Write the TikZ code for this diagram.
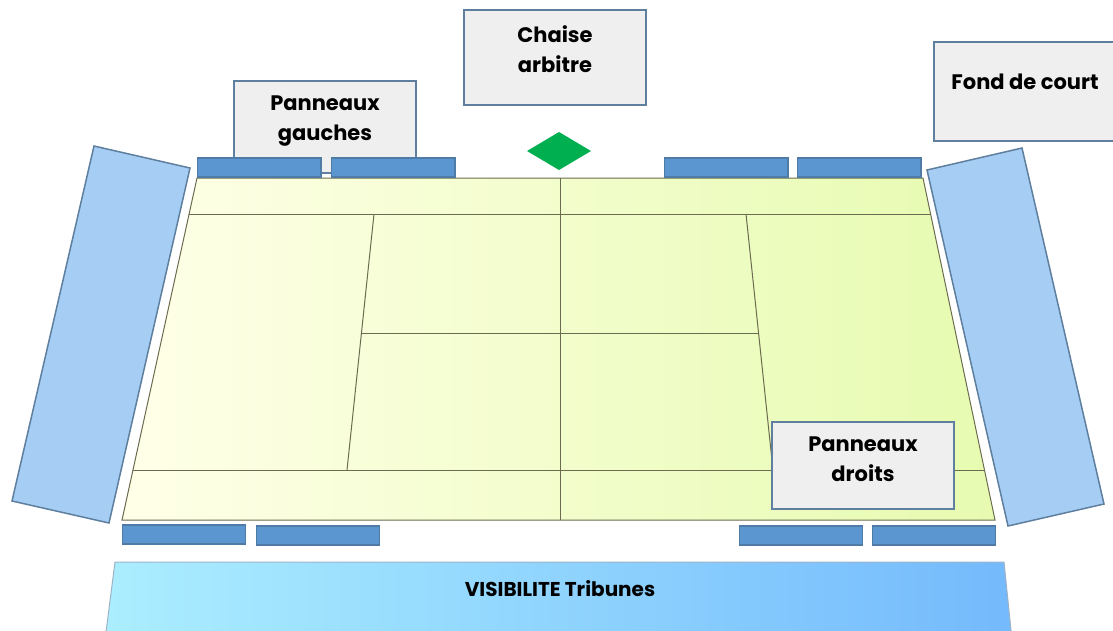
\documentclass[tikz,border=0pt]{standalone}
\usepackage{fontspec}
\setmainfont{Poppins}
\definecolor{bordbleu}{HTML}{5F7F9E}
\definecolor{panneaubleu}{HTML}{5B96D0}
\definecolor{panneaubord}{HTML}{4F7CA6}
\definecolor{latbleu}{HTML}{A6CDF3}
\definecolor{boitegris}{HTML}{EFEFEF}
\definecolor{courtbord}{HTML}{6B6B50}
\definecolor{courtgauche}{HTML}{FFFFE8}
\definecolor{courtmilieu}{HTML}{FDFECF}
\definecolor{courtdroit}{HTML}{E6FBB0}
\definecolor{tribgauche}{HTML}{ABEEFF}
\definecolor{tribdroit}{HTML}{74BAFC}
\definecolor{chaisevert}{HTML}{00B050}
\tikzset{
 panneau/.style={draw=panneaubord,fill=panneaubleu,line width=1.2pt},
 lateral/.style={draw=bordbleu,fill=latbleu,line width=1.5pt},
 boite/.style={draw=bordbleu,fill=boitegris,line width=1.5pt},
 libelle/.style={font=\fontsize{21}{30}\selectfont\bfseries,align=center,text=black,inner sep=0pt},
 ligne/.style={draw=courtbord,line width=1pt}
}
\begin{document}
\begin{tikzpicture}[x=1pt,y=-1pt]
 \useasboundingbox (0,0) rectangle (1113,630);
 \clip (0,0) rectangle (1113,630);
 % cotes
 \draw[lateral](94,146)--(190,168)--(109,523)--(12,501)--cycle;
 \draw[lateral](927,170)--(1022,148)--(1104,504)--(1008,526)--cycle;
 % court
 \shadedraw[left color=courtgauche,middle color=courtmilieu,right color=courtdroit,draw=courtbord,line width=1pt](197,178)--(923,178)--(995,520)--(122,520)--cycle;
 \draw[ligne](189,214)--(931,214);
 \draw[ligne](133,470)--(984,470);
 \draw[ligne](361,333)--(759,333);
 \draw[ligne](560,178)--(560,520);
 \draw[ligne](374,214)--(347,470);
 \draw[ligne](746,214)--(773,470);
 % boites
 \draw[boite](464,10) rectangle (646,105);
 \node[libelle] (chaise) at (555,49) {Chaise\\arbitre};
 \draw[boite](234,81) rectangle (416,173);
 \node[libelle] (gauches) at (325,121) {Panneaux\\gauches};
 \draw[boite](934,42) rectangle (1125,141);
 \node[libelle] (fond) at (1025,82) {Fond de court};
 \draw[boite](772,422) rectangle (954,509);
 \node[libelle] (droits) at (863,459) {Panneaux\\droits};
 % chaise
 \fill[chaisevert](527,151)--(559,132)--(591,151)--(559,170)--cycle;
 % panneaux haut
 \draw[panneau](197.5,158) rectangle (321,177);
 \draw[panneau](331.5,158) rectangle (455,177);
 \draw[panneau](664.5,158) rectangle (788,177);
 \draw[panneau](797.5,158) rectangle (921,177);
 % panneaux bas
 \draw[panneau](122.5,525) rectangle (245.5,544);
 \draw[panneau](256.5,526) rectangle (379.5,545);
 \draw[panneau](739.5,526) rectangle (862.5,545);
 \draw[panneau](872.5,526) rectangle (995.5,545);
 % tribunes
 \shadedraw[left color=tribgauche,right color=tribdroit,draw=bordbleu!60!white,line width=1pt](115,562)--(1004,562)--(1012,640)--(105,640)--cycle;
 \node[libelle,font=\fontsize{20}{30}\selectfont\bfseries] (tribunes) at (560,589) {VISIBILITE Tribunes};
\end{tikzpicture}
\end{document}
